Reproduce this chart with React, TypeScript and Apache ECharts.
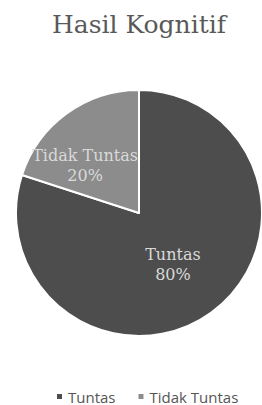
import React, { useEffect, useRef } from "react";
import * as echarts from "echarts";

const title = "Hasil Kognitif";
const categories = ["Tuntas", "Tidak Tuntas"];
const values = [80, 20];
const colors = ["#4d4d4d", "#8c8c8c"];
const labelOffsets: number[][] = [[-4, -1], [-16, 5]];

export default function App() {
  const ref = useRef<HTMLDivElement>(null);
  useEffect(() => {
    document.body.style.margin = "0";
    if (!ref.current) return;
    const chart = echarts.init(ref.current, undefined, { renderer: "svg" });
    chart.setOption({
      animation: false,
      backgroundColor: "#ffffff",
      title: {
        text: title,
        left: 47,
        top: 7,
        textStyle: {
          fontFamily: "DejaVu Serif",
          fontSize: 25,
          fontWeight: "normal",
          color: "#595959",
        },
      },
      legend: {
        top: 389,
        left: 55,
        itemWidth: 7,
        itemHeight: 7,
        itemGap: 21,
        icon: "rect",
        padding: 0,
        textStyle: {
          fontFamily: "Open Sans",
          fontSize: 15,
          color: "#555555",
        },
        data: categories,
      },
      series: [
        {
          type: "pie",
          center: [139, 213],
          radius: 123,
          startAngle: 90,
          clockwise: true,
          itemStyle: { borderColor: "#ffffff", borderWidth: 2 },
          label: {
            show: true,
            position: "inside",
            fontFamily: "DejaVu Serif",
            fontSize: 16,
            lineHeight: 20,
            color: "#d9d9d9",
            formatter: (p: any) => `${p.name}\n${p.value}%`,
          },
          labelLine: { show: false },
          emphasis: { disabled: true },
          data: categories.map((name, i) => ({
            name,
            value: values[i],
            itemStyle: { color: colors[i] },
            label: { offset: labelOffsets[i] },
          })),
        },
      ],
    });
    return () => chart.dispose();
  }, []);
  return <div ref={ref} style={{ width: 262, height: 405 }} />;
}
